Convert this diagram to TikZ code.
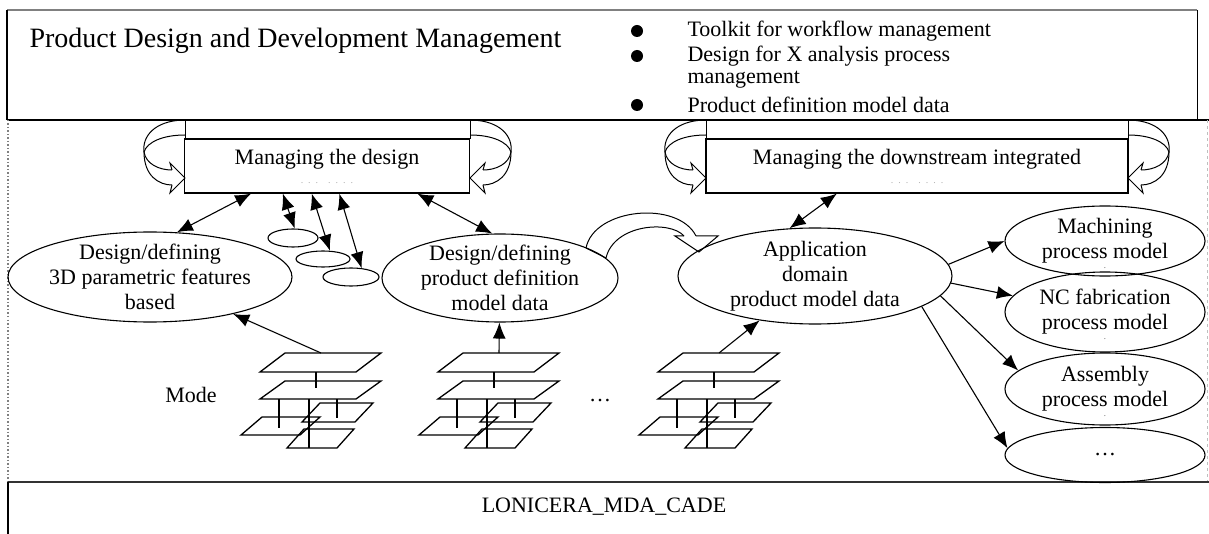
\documentclass[tikz,border=0pt]{standalone}
\usepackage{fontspec}
\setmainfont{Liberation Serif}
\usetikzlibrary{positioning,shapes.geometric,arrows.meta}

\newcommand{\bodyfont}{\fontsize{22}{25}\selectfont}
\newcommand{\faintdots}{{\color{gray!60}\fontsize{10}{10}\selectfont .\enspace.\enspace.\enspace\enspace.\enspace.\enspace.\enspace.}}

\tikzset{
  mgmt/.style={draw, line width=1.2pt, minimum width=#1, minimum height=54pt, inner sep=0pt, align=center, font=\bodyfont},
  oval/.style={draw, ellipse, line width=1.1pt, inner sep=-6pt, align=center, font=\bodyfont},
  smalloval/.style={draw, ellipse, line width=1.1pt, inner sep=0pt},
  bullet/.style={circle, fill=black, inner sep=0pt, minimum size=12pt},
  strayDot/.style={label={[font=\scriptsize, inner sep=0pt, yshift=-27pt]center:.}},
  conn/.style={line width=1.1pt, {Latex[length=16pt,width=13pt]}-{Latex[length=16pt,width=13pt]}},
  feed/.style={line width=1.1pt, -{Latex[length=16pt,width=13pt]}},
  plane/.style={line width=1.3pt},
  ribbon/.style={line width=1pt},
}

% stack of model planes: name, x, y
\newcommand{\modelstack}[3]{%
  \begin{scope}[shift={(#2,#3)}]
    \draw[plane] (19,19) -- (115,19) -- (140,0) -- (44,0) -- cycle;
    \draw[plane] (19,46) -- (115,46) -- (140,28) -- (44,28) -- cycle;
    \draw[plane] (75,19) -- (75,35);
    \draw[plane] (0,82) -- (59,82) -- (79,64) -- (21,64) -- cycle;
    \draw[plane] (61,69) -- (114,69) -- (132,50) -- (79,50) -- cycle;
    \draw[plane] (46,95) -- (96,95) -- (113,76) -- (63,76) -- cycle;
    \draw[plane] (38,46) -- (38,75);
    \draw[plane] (68,46) -- (68,95);
    \draw[plane] (96,46) -- (96,65);
    \coordinate (#1) at (80,0);
  \end{scope}}

% curled arrow beside a management box: x of box side, side (1 left, -1 right)
\newcommand{\curlarrow}[2]{%
  \begin{scope}[shift={(#1,120)}, xscale=#2]
    \draw[ribbon] (0,0) -- (0,19);
    \draw[ribbon] (-2,0) .. controls (-30,1) and (-43,16) .. (-41,32);
    \draw[ribbon] (0,15) .. controls (-22,15) and (-38,22) .. (-41,32);
    \draw[ribbon] (-41,32) .. controls (-39,44) and (-26,50) .. (-13,50);
    \draw[ribbon] (-41,32) .. controls (-41,56) and (-26,65) .. (-13,65);
    \draw[ribbon] (-13,50) -- (-15,43) -- (0,58) -- (-15,73) -- (-13,65);
  \end{scope}}

\begin{document}
\begin{tikzpicture}[x=1pt,y=-1pt]
  \useasboundingbox (0,0) rectangle (1209,534);
  % frames
  \draw[gray, line width=2.5pt] (7,10) -- (1197,10);
  \draw[line width=1.2pt] (7,10) -- (7,120);
  \draw[line width=1pt] (1197,10) -- (1197,120);
  \draw[line width=1.2pt] (7,120) -- (1209,120);
  \draw[gray, line width=1.5pt, dotted] (8,120) -- (8,482);
  \draw[gray!50, line width=1pt, dashed] (1207,120) -- (1207,482);
  \draw[black!80, line width=1.3pt] (8,482) -- (1209,482);
  \draw[line width=1.2pt] (8,482) -- (8,534);
  % header
  \node[anchor=west, font=\fontsize{28}{30}\selectfont] (title) at (26,41) {Product Design and Development Management};
  \node[bullet] (d1) at (637,31) {};
  \node[bullet] (d2) at (637,56) {};
  \node[bullet] (d3) at (637,105) {};
  \node[anchor=west, font=\bodyfont] (b1) at (684,31) {Toolkit for workflow management};
  \node[anchor=west, font=\bodyfont] (b2) at (684,56) {Design for X analysis process};
  \node[anchor=west, font=\bodyfont] (b2b) at (684,80) {management};
  \node[anchor=west, font=\bodyfont] (b3) at (684,105) {Product definition model data};
  % management boxes
  \node[mgmt=285pt] (mdesign) at (327,166) {Managing the design\\[-6pt]\faintdots};
  \node[mgmt=422pt] (mdown) at (917,166) {Managing the downstream integrated\\[-6pt]\faintdots};
  \curlarrow{185}{1}
  \curlarrow{470}{-1}
  \curlarrow{706}{1}
  \curlarrow{1128}{-1}
  % design ellipses
  \node[oval, minimum width=284pt, minimum height=90pt] (feat) at (150,277) {Design/defining\\3D parametric features\\based};
  \node[oval, minimum width=236pt, minimum height=88pt] (pdef) at (500,278) {Design/defining\\product definition\\model data};
  \node[oval, minimum width=274pt, minimum height=96pt] (appl) at (815,276) {Application\\domain\\product model data};
  % small ellipses
  \node[smalloval, minimum width=50pt, minimum height=18pt] (s1) at (293,238) {};
  \node[smalloval, minimum width=54pt, minimum height=16pt] (s2) at (323,259) {};
  \node[smalloval, minimum width=56pt, minimum height=18pt] (s3) at (351,277) {};
  % process model ellipses
  \node[oval, strayDot, minimum width=200pt, minimum height=70pt] (mach) at (1105,241) {Machining\\process model};
  \node[oval, strayDot, minimum width=200pt, minimum height=80pt] (nc) at (1105,312) {NC fabrication\\process model};
  \node[oval, strayDot, minimum width=200pt, minimum height=72pt] (asm) at (1105,389) {Assembly\\process model};
  \node[oval, minimum width=200pt, minimum height=55pt] (more) at (1105,455) {\dots};
  % model stacks
  \modelstack{st1}{241}{353}
  \modelstack{st2}{419}{353}
  \modelstack{st3}{639}{353}
  \node[font=\bodyfont] (mode) at (191,395) {Mode};
  \node[font=\bodyfont] (gap) at (600,401) {\dots};
  \node[font=\bodyfont] (base) at (604,507) {LONICERA\_MDA\_CADE};
  % connectors
  \draw[conn] (mdesign.-160) -- (feat.59);
  \draw[conn] (mdesign.-17) -- (pdef.100);
  \draw[conn] (mdesign.-148) -- (s1.80);
  \draw[conn] (mdesign.-119) -- (s2.50);
  \draw[conn] (mdesign.-66) -- (s3.40);
  \draw[conn] (mdown.-161) -- (appl.118);
  \draw[feed] (st1) -- (feat);
  \draw[feed] (st2) -- (pdef);
  \draw[feed] (st3) -- (appl);
  \draw[feed] (appl.5) -- (mach.west);
  \draw[feed] (appl.-3) -- (nc.170);
  \draw[feed] (appl.-9) -- (asm.168);
  \draw[feed] (appl.-16) -- (more.176);
  % curved transfer arrow
  \draw[ribbon] (586,248) -- (606,258);
  \draw[ribbon] (586,248) .. controls (594,208) and (678,200) .. (696,236);
  \draw[ribbon] (606,258) .. controls (614,224) and (670,220) .. (684,236);
  \draw[ribbon] (684,236) -- (675,236) -- (699,252) -- (718,236) -- (696,236);
\end{tikzpicture}
\end{document}
